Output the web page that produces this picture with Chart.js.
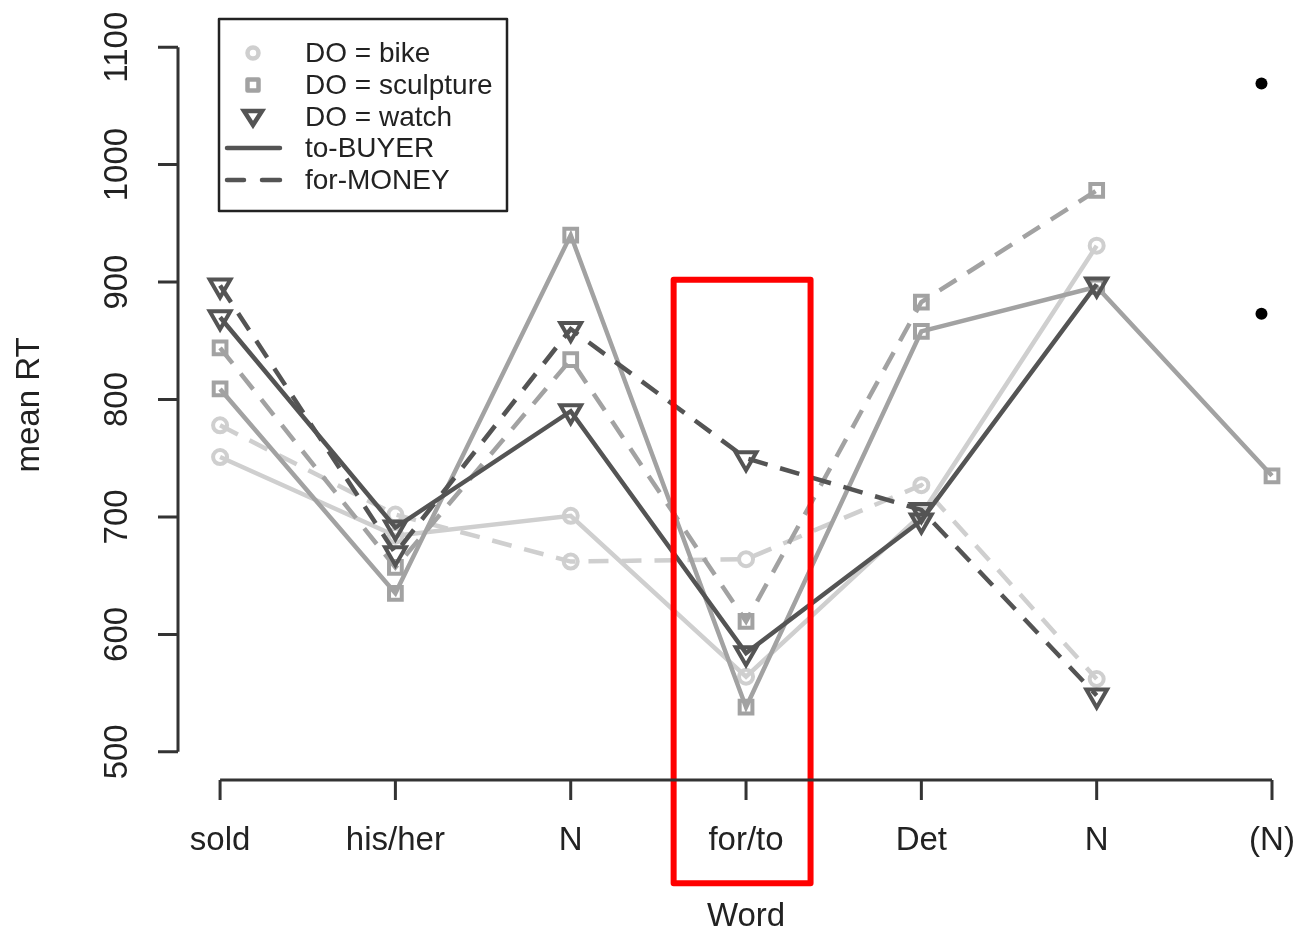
<!DOCTYPE html>
<html>
<head>
<meta charset="utf-8">
<script src="https://cdn.jsdelivr.net/npm/chart.js@4"></script>
<style>
  html, body { margin: 0; padding: 0; background: #fff; overflow: hidden; }
  #wrap { width: 1299px; height: 933px; }
</style>
</head>
<body>
<div id="wrap"><canvas id="myChart"></canvas></div>
<script>
// word positions on the x axis
var words = ['sold', 'his/her', 'N', 'for/to', 'Det', 'N', '(N)'];
var yTicks = [500, 600, 700, 800, 900, 1000, 1100];

// mean RT per word (null = no value)
var bikeBuyer    = [751, 684, 701, 564, 702, 931, null];
var bikeMoney    = [778, 702, 662, 664, 727, 562, null];
var sculptBuyer  = [809, 635, 940, 538, 858, 896, 735];
var sculptMoney  = [844, 657, 834, 611, 883, 978, null];
var watchBuyer   = [870, 691, 790, 584, 697, 898, null];
var watchMoney   = [897, 669, 860, 750, 706, 548, null];

// black dots drawn at the right edge
var sigX = 6.94;
var sigMarks = [1069, 873];

// red highlight box around for/to (in data units)
var boxX = [3.587, 4.368];
var boxY = [388, 902];

var light = '#cfcfcf', mid = '#a2a2a2', dark = '#545454';

function pts(arr) {
    var out = [];
    arr.forEach(function (v, i) { if (v !== null) out.push({x: i + 1, y: v}); });
    return out;
}

function series(label, arr, color, style, dashed) {
    return {
        label: label,
        data: pts(arr),
        borderColor: color,
        backgroundColor: 'rgba(0,0,0,0)',
        borderWidth: 4.5,
        borderDash: dashed ? [20, 13] : [],
        pointStyle: style,
        pointRotation: style === 'triangle' ? 180 : 0,
        pointRadius: style === 'triangle' ? 12 : (style === 'rect' ? 9 : 7),
        pointBorderWidth: 4,
        pointBorderColor: color,
        pointBackgroundColor: 'rgba(0,0,0,0)',
        tension: 0
    };
}

var txt = '#222';
var axisPlugin = {
    id: 'rAxes',
    afterDatasetsDraw: function (chart) {
        var ctx = chart.ctx, xs = chart.scales.x, ys = chart.scales.y;
        ctx.save();

        // red box
        ctx.strokeStyle = '#ff0000';
        ctx.lineWidth = 6;
        ctx.lineJoin = 'round';
        var bx0 = xs.getPixelForValue(boxX[0]), bx1 = xs.getPixelForValue(boxX[1]);
        var by0 = ys.getPixelForValue(boxY[1]), by1 = ys.getPixelForValue(boxY[0]);
        ctx.strokeRect(bx0, by0, bx1 - bx0, by1 - by0);

        // y axis
        ctx.strokeStyle = '#333';
        ctx.lineWidth = 3;
        ctx.lineCap = 'butt';
        var ax = 178;
        ctx.beginPath();
        ctx.moveTo(ax, ys.getPixelForValue(yTicks[0]));
        ctx.lineTo(ax, ys.getPixelForValue(yTicks[yTicks.length - 1]));
        yTicks.forEach(function (t) {
            var py = ys.getPixelForValue(t);
            ctx.moveTo(ax, py);
            ctx.lineTo(ax - 20, py);
        });
        ctx.stroke();
        ctx.fillStyle = txt;
        ctx.font = '33px "Liberation Sans", Arial, sans-serif';
        ctx.textAlign = 'center';
        ctx.textBaseline = 'middle';
        yTicks.forEach(function (t) {
            var py = ys.getPixelForValue(t);
            ctx.save();
            ctx.translate(118, py);
            ctx.rotate(-Math.PI / 2);
            ctx.fillText(String(t), 0, 0);
            ctx.restore();
        });
        ctx.save();
        ctx.translate(30, 405);
        ctx.rotate(-Math.PI / 2);
        ctx.fillText('mean RT', 0, 0);
        ctx.restore();

        // x axis
        var ay = 780;
        ctx.beginPath();
        ctx.moveTo(xs.getPixelForValue(1), ay);
        ctx.lineTo(xs.getPixelForValue(words.length), ay);
        words.forEach(function (w, i) {
            var px = xs.getPixelForValue(i + 1);
            ctx.moveTo(px, ay);
            ctx.lineTo(px, ay + 20);
        });
        ctx.stroke();
        words.forEach(function (w, i) {
            ctx.fillText(w, xs.getPixelForValue(i + 1), 841);
        });
        ctx.fillText('Word', xs.getPixelForValue(4), 917);

        // legend
        ctx.lineWidth = 2.5;
        ctx.strokeStyle = '#222';
        ctx.strokeRect(219, 19, 288, 192);
        var rows = [53, 85, 117, 148, 180];
        var labels = ['DO = bike', 'DO = sculpture', 'DO = watch', 'to-BUYER', 'for-MONEY'];
        ctx.font = '28px "Liberation Sans", Arial, sans-serif';
        ctx.textAlign = 'left';
        labels.forEach(function (l, i) { ctx.fillText(l, 305, rows[i] + 1); });

        ctx.lineWidth = 4.5;
        ctx.strokeStyle = light;
        ctx.beginPath(); ctx.arc(253, rows[0], 5.5, 0, Math.PI * 2); ctx.stroke();
        ctx.strokeStyle = mid;
        ctx.strokeRect(247.5, rows[1] - 5.5, 11, 11);
        ctx.strokeStyle = dark;
        ctx.lineJoin = 'miter';
        ctx.beginPath();
        ctx.moveTo(244, rows[2] - 6); ctx.lineTo(262, rows[2] - 6); ctx.lineTo(253, rows[2] + 8); ctx.closePath();
        ctx.stroke();

        ctx.lineWidth = 4.5;
        ctx.lineCap = 'round';
        ctx.beginPath();
        ctx.moveTo(227, rows[3]); ctx.lineTo(280, rows[3]);
        ctx.moveTo(227, rows[4]); ctx.lineTo(244, rows[4]);
        ctx.moveTo(262, rows[4]); ctx.lineTo(280, rows[4]);
        ctx.stroke();

        ctx.restore();
    }
};

var ctx = document.getElementById('myChart').getContext('2d');
var myChart = new Chart(ctx, {
    type: 'line',
    data: {
        datasets: [
            {
                label: 'sig',
                data: sigMarks.map(function (v) { return {x: sigX, y: v}; }),
                showLine: false,
                pointRadius: 6,
                pointBackgroundColor: '#000',
                pointBorderColor: '#000',
                pointBorderWidth: 0
            },
            series('watch / to-BUYER', watchBuyer, dark, 'triangle', false),
            series('watch / for-MONEY', watchMoney, dark, 'triangle', true),
            series('sculpture / to-BUYER', sculptBuyer, mid, 'rect', false),
            series('sculpture / for-MONEY', sculptMoney, mid, 'rect', true),
            series('bike / to-BUYER', bikeBuyer, light, 'circle', false),
            series('bike / for-MONEY', bikeMoney, light, 'circle', true)
        ]
    },
    options: {
        responsive: true,
        maintainAspectRatio: false,
        animation: false,
        layout: { autoPadding: false, padding: { left: 178, right: 0, top: 19, bottom: 153 } },
        scales: {
            x: { type: 'linear', min: 0.76, max: 7.154, display: false },
            y: { type: 'linear', min: 476, max: 1124, display: false }
        },
        plugins: {
            legend: { display: false },
            tooltip: { enabled: false }
        }
    },
    plugins: [axisPlugin]
});
</script>
</body>
</html>
